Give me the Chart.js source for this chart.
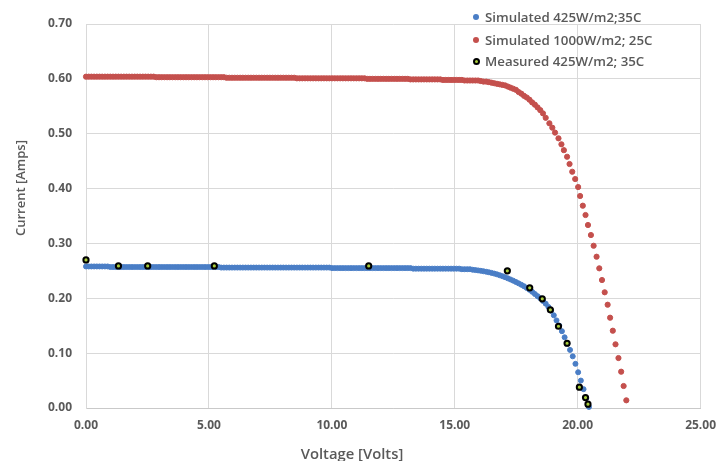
<!DOCTYPE html>
<html><head><meta charset="utf-8">
<script src="https://cdn.jsdelivr.net/npm/chart.js@4.4.1/dist/chart.umd.min.js"></script>
<style>
html,body{margin:0;padding:0;background:#fff;}
#wrap{position:relative;width:726px;height:461px;overflow:hidden;}
#c{position:absolute;left:0;top:0;}
.ttl{position:absolute;font-family:"Open Sans",sans-serif;font-weight:600;font-size:13px;color:#595959;white-space:nowrap;transform:translate(-50%,-50%);}
.li{position:absolute;left:485px;height:20px;line-height:20px;font-family:"Open Sans",sans-serif;font-weight:600;font-size:13.3px;color:#595959;white-space:nowrap;}
.dot{position:absolute;border-radius:50%;box-sizing:border-box;}
</style>
</head><body>
<div id="wrap">
<canvas id="c" width="726" height="461"></canvas>
<div id="ytitle" class="ttl" style="left:20px;top:188px;transform:translate(-50%,-50%) rotate(-90deg);"></div>
<div id="xtitle" class="ttl" style="left:352px;top:453px;font-size:14.8px;"></div>
<div id="legend"></div>
</div>
<script>
// ---- data ----
const seriesNames = ["Simulated 425W/m2;35C", "Simulated 1000W/m2; 25C", "Measured 425W/m2; 35C"];
const xTitle = "Voltage [Volts]";
const yTitle = "Current [Amps]";
const xTicks = [0, 5, 10, 15, 20, 25];
const yTicks = [0, 0.1, 0.2, 0.3, 0.4, 0.5, 0.6, 0.7];

// simulated voltage grid (Volts)
const gridV = [0,0.11,0.22,0.33,0.44,0.55,0.66,0.77,0.88,0.99,1.1,1.21,1.32,1.43,1.54,1.65,1.76,1.87,1.98,2.09,2.2,2.31,2.42,2.53,2.64,2.75,2.86,2.97,3.08,3.19,3.3,3.41,3.52,3.63,3.74,3.85,3.96,4.07,4.18,4.29,4.4,4.51,4.62,4.73,4.84,4.95,5.06,5.17,5.28,5.39,5.5,5.61,5.72,5.83,5.94,6.05,6.16,6.27,6.38,6.49,6.6,6.71,6.82,6.93,7.04,7.15,7.26,7.37,7.48,7.59,7.7,7.81,7.92,8.03,8.14,8.25,8.36,8.47,8.58,8.69,8.8,8.91,9.02,9.13,9.24,9.35,9.46,9.57,9.68,9.79,9.9,10.01,10.12,10.23,10.34,10.45,10.56,10.67,10.78,10.89,11,11.11,11.22,11.33,11.44,11.55,11.66,11.77,11.88,11.99,12.1,12.21,12.32,12.43,12.54,12.65,12.76,12.87,12.98,13.09,13.2,13.31,13.42,13.53,13.64,13.75,13.86,13.97,14.08,14.19,14.3,14.41,14.52,14.63,14.74,14.85,14.96,15.07,15.18,15.29,15.4,15.51,15.62,15.73,15.84,15.95,16.06,16.17,16.28,16.39,16.5,16.61,16.72,16.83,16.94,17.05,17.16,17.27,17.38,17.49,17.6,17.71,17.82,17.93,18.04,18.15,18.26,18.37,18.48,18.59,18.7,18.81,18.92,19.03,19.14,19.25,19.36,19.47,19.58,19.69,19.8,19.91,20.02,20.13,20.24,20.35,20.46];

// Simulated 425 W/m2, 35C : current (Amps) at each gridV point
const blueI = [
0.258,0.258,0.258,0.258,0.258,0.258,0.258,0.258,0.258,
0.257,0.257,0.257,0.257,0.257,0.257,0.257,0.257,0.257,0.257,0.257,0.257,0.257,0.257,0.257,0.257,0.257,0.257,0.257,0.257,0.257,0.257,0.257,0.257,0.257,0.257,0.257,0.257,0.257,0.257,0.257,0.257,0.257,0.257,0.257,0.257,0.257,0.257,0.257,0.257,0.257,
0.256,0.256,0.256,0.256,0.256,0.256,0.256,0.256,0.256,0.256,0.256,0.256,0.256,0.256,0.256,0.256,0.256,0.256,0.256,0.256,0.256,0.256,0.256,0.256,0.256,0.256,0.256,0.256,0.256,0.256,0.256,0.256,0.256,0.256,0.256,0.256,0.256,0.256,0.256,0.256,0.256,
0.255,0.255,0.255,0.255,0.255,0.255,0.255,0.255,0.255,0.255,0.255,0.255,0.255,0.255,0.255,0.255,0.255,0.255,0.255,0.255,0.255,0.255,0.255,0.255,0.255,0.255,0.255,0.255,0.255,0.255,
0.254,0.254,0.254,0.254,0.254,0.254,0.254,0.254,0.254,0.254,0.254,0.254,0.254,0.254,0.254,0.254,0.254,0.254,
0.253,0.253,0.253,0.253,
0.252,0.2514,0.2508,0.2501,0.2493,0.2484,0.2474,0.2463,0.2450,0.2436,0.2420,0.2403,0.2384,0.2364,0.2343,0.2321,0.2297,0.2272,0.2246,0.2219,0.2188,0.2155,0.2118,0.2078,0.2039,0.2000,0.1952,0.1902,0.1843,0.1774,0.1690,0.1597,0.1503,0.1400,0.1289,0.1174,0.1059,0.0942,0.0805,0.0652,0.0500,0.0344,0.0180,0.002];

// Simulated 1000 W/m2, 25C : current at gridV[0..170], then the sparse tail
const redI = [
0.604,0.604,0.604,0.604,0.604,0.604,0.604,0.604,0.604,0.604,0.604,0.604,0.604,0.604,0.604,0.604,0.604,0.604,0.604,0.604,0.604,0.604,0.604,0.604,0.604,0.604,
0.603,0.603,0.603,0.603,0.603,0.603,0.603,0.603,0.603,0.603,0.603,0.603,0.603,0.603,0.603,0.603,0.603,0.603,0.603,0.603,0.603,0.603,0.603,0.603,0.603,0.603,
0.602,0.602,0.602,0.602,0.602,0.602,0.602,0.602,0.602,0.602,0.602,0.602,0.602,0.602,0.602,0.602,0.602,0.602,0.602,0.602,0.602,0.602,0.602,0.602,0.602,0.602,
0.601,0.601,0.601,0.601,0.601,0.601,0.601,0.601,0.601,0.601,0.601,0.601,0.601,0.601,0.601,0.601,0.601,0.601,0.601,0.601,0.601,0.601,0.601,0.601,0.601,0.601,
0.600,0.600,0.600,0.600,0.600,0.600,0.600,0.600,0.600,0.600,0.600,0.600,0.600,0.600,0.600,0.600,
0.599,0.599,0.599,0.599,0.599,0.599,0.599,0.599,0.599,0.599,0.599,0.599,
0.598,0.598,0.598,0.598,0.598,0.598,0.598,0.598,
0.597,0.597,0.597,0.597,0.597,0.597,
0.596,0.595,0.595,0.594,0.593,0.592,0.591,0.590,0.589,0.588,0.586,0.584,0.582,0.580,0.576,0.573,0.569,0.566,0.562,0.557,0.553,0.548,0.543,0.537,0.529];
const redTailV = [18.85,18.97,19.08,19.22,19.34,19.44,19.57,19.67,19.78,19.90,20.02,20.10,20.21,20.32,20.42,20.54,20.65,20.77,20.88,20.99,21.10,21.22,21.32,21.43,21.54,21.66,21.77,21.87,21.98];
const redTailI = [0.519,0.511,0.502,0.4916,0.4807,0.470,0.458,0.4448,0.4307,0.4174,0.4028,0.3865,0.3688,0.3518,0.3336,0.3153,0.2958,0.2758,0.2546,0.2333,0.2109,0.1883,0.1646,0.1409,0.1161,0.0911,0.0662,0.0401,0.0140];

// Measured 425 W/m2, 35C
const measV = [0.00,1.32,2.51,5.22,11.50,17.14,18.05,18.56,18.89,19.22,19.57,20.07,20.32,20.42];
const measI = [0.270,0.259,0.259,0.259,0.259,0.250,0.219,0.199,0.179,0.149,0.118,0.038,0.019,0.007];

// ---- styles ----
const colors = ["#4a7ec6", "#c4504d", "#a8cc3c"];
const gray = "#595959";
const gridCol = "#d9d9d9";

function zip(xs, ys){ const out=[]; for(let i=0;i<ys.length;i++) out.push({x:xs[i], y:ys[i]}); return out; }

const blueData = zip(gridV, blueI);
const redData = zip(gridV, redI).concat(zip(redTailV, redTailI));
const measData = zip(measV, measI);

const tickFont = {family:"'Open Sans', sans-serif", size:12, weight:'bold'};

new Chart(document.getElementById('c'), {
  type:'scatter',
  data:{datasets:[
    {label:seriesNames[0], data:blueData, backgroundColor:colors[0], borderColor:colors[0], borderWidth:1, pointRadius:2.5, clip:false, order:2},
    {label:seriesNames[1], data:redData, backgroundColor:colors[1], borderColor:colors[1], borderWidth:1, pointRadius:2.6, clip:false, order:3},
    {label:seriesNames[2], data:measData, backgroundColor:colors[2], borderColor:'#000', borderWidth:2, pointRadius:2.6, clip:false, order:1}
  ]},
  options:{
    responsive:false, animation:false, events:[],
    layout:{padding:{top:24, right:19, left:0, bottom:0}},
    plugins:{legend:{display:false}, tooltip:{enabled:false}},
    scales:{
      x:{type:'linear', min:0, max:25,
         afterBuildTicks:(s)=>{ s.ticks = xTicks.map(v=>({value:v})); },
         afterFit:(s)=>{ s.height = 53; },
         ticks:{callback:(v)=>Number(v).toFixed(2), font:tickFont, color:gray, padding:10, maxRotation:0},
         grid:{color:gridCol, drawTicks:false}, border:{color:'#c9c9c9'}},
      y:{type:'linear', min:0, max:0.7,
         afterBuildTicks:(s)=>{ s.ticks = yTicks.map(v=>({value:v})); },
         afterFit:(s)=>{ s.width = 86; },
         ticks:{callback:(v)=>Number(v).toFixed(2), font:tickFont, color:gray, padding:14},
         grid:{color:gridCol, drawTicks:false}, border:{color:gridCol}}
    }
  }
});

document.getElementById('xtitle').textContent = xTitle;
document.getElementById('ytitle').textContent = yTitle;
const lg = document.getElementById('legend');
const rowY = [17, 40, 61];
seriesNames.forEach((n,i)=>{
  const d = document.createElement('div'); d.className='li'; d.style.top=(rowY[i]-10)+'px'; d.textContent=n; lg.appendChild(d);
  const dot = document.createElement('div'); dot.className='dot';
  const sz = i===2 ? 7 : 6;
  dot.style.width=sz+'px'; dot.style.height=sz+'px';
  dot.style.left=(476-sz/2)+'px'; dot.style.top=(rowY[i]-sz/2)+'px';
  dot.style.background=colors[i];
  if(i===2) dot.style.border='2px solid #000';
  lg.appendChild(dot);
});
</script>
</body></html>
